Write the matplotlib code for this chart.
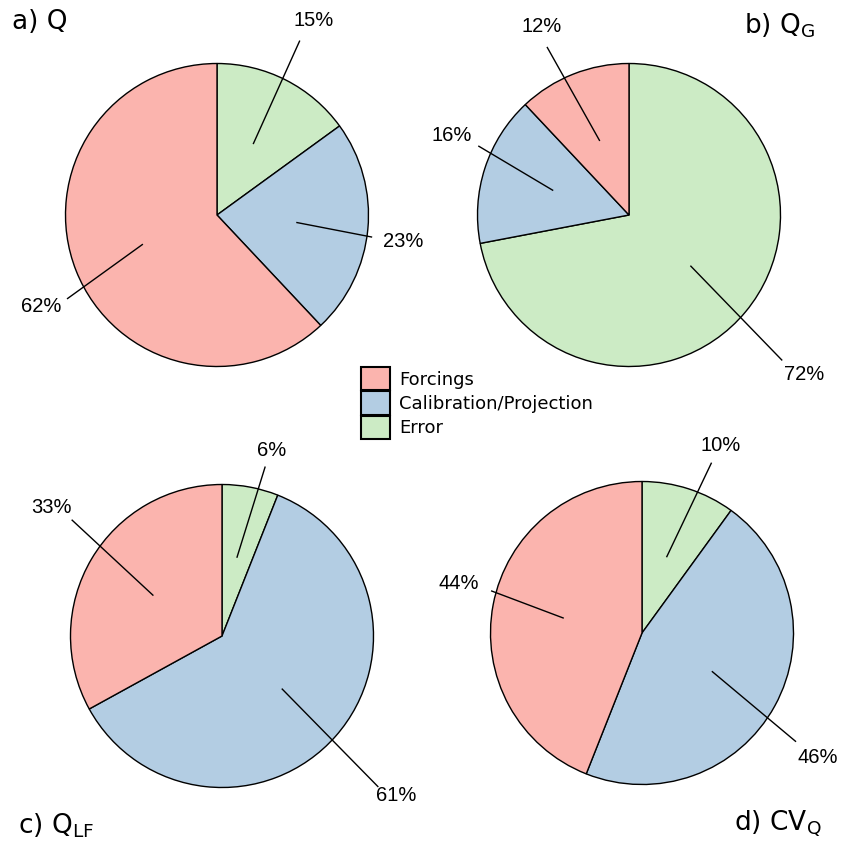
import numpy as np
import matplotlib.pyplot as plt
from matplotlib.patches import Patch

plt.rcParams['font.family'] = ['DejaVu Sans']
plt.rcParams['mathtext.default'] = 'regular'

# wedges drawn clockwise from 12 o'clock: Error, Calibration/Projection, Forcings
sources = ['Error', 'Calibration/Projection', 'Forcings']
colors = ['#CCEBC5', '#B3CDE3', '#FBB4AE']

share_q = [15, 23, 62]
share_qg = [72, 16, 12]
share_qlf = [6, 61, 33]
share_cvq = [10, 46, 44]

titles = ['a) Q', 'b) $Q_G$', 'c) $Q_{LF}$', 'd) $CV_Q$']

# label placement per wedge: (line end angle, line end radius, text angle, text radius)
label_pos = [
    [(64.6, 1.27, 63.6, 1.43), (-8.1, 1.03, -8.2, 1.24), (209.2, 1.13, 207.6, 1.31)],
    [(-43.5, 1.39, -42.3, 1.56), (155.4, 1.09, 155.9, 1.28), (116.0, 1.23, 115.0, 1.37)],
    [(75.7, 1.15, 75.0, 1.27), (-44.0, 1.43, -42.6, 1.56), (142.3, 1.25, 143.0, 1.41)],
    [(67.8, 1.21, 67.1, 1.34), (-35.2, 1.24, -35.2, 1.42), (164.4, 1.03, 165.0, 1.25)],
]

W, H = 842, 841
fig = plt.figure(figsize=(W / 100, H / 100), dpi=100)

centers = [(217, 215), (629, 215), (222, 636), (642, 633)]
r_px = 151.5
half = 215
lim = half / r_px

for k, (vals, (cx, cy)) in enumerate(zip([share_q, share_qg, share_qlf, share_cvq], centers)):
    ax = fig.add_axes([(cx - half) / W, (H - cy - half) / H, 2 * half / W, 2 * half / H])
    wedges, _ = ax.pie(vals, colors=colors, startangle=90, counterclock=False, radius=1,
                       wedgeprops=dict(edgecolor='black', linewidth=1.0))
    ax.set_xlim(-lim, lim)
    ax.set_ylim(-lim, lim)
    ax.set_aspect('equal')
    ax.axis('off')
    for j, w in enumerate(wedges):
        a = np.deg2rad((w.theta1 + w.theta2) / 2)
        la, lr, ta, tr = label_pos[k][j]
        la, ta = np.deg2rad(la), np.deg2rad(ta)
        ax.plot([0.53 * np.cos(a), lr * np.cos(la)], [0.53 * np.sin(a), lr * np.sin(la)],
                color='black', lw=1.0, clip_on=False)
        ax.text(tr * np.cos(ta), tr * np.sin(ta), f'{vals[j]}%', fontsize=14.5,
                family='Liberation Sans', ha='center', va='center', clip_on=False)

fig.text(12 / W, 1 - 22 / H, titles[0], fontsize=19, ha='left', va='center')
fig.text(815 / W, 1 - 26 / H, titles[1], fontsize=19, ha='right', va='center')
fig.text(18 / W, 1 - 826 / H, titles[2], fontsize=19, ha='left', va='center')
fig.text(822 / W, 1 - 824 / H, titles[3], fontsize=19, ha='right', va='center')

handles = [Patch(facecolor=colors[i], edgecolor='black', linewidth=1.5) for i in [2, 1, 0]]
fig.legend(handles, [sources[i] for i in [2, 1, 0]], loc='center',
           bbox_to_anchor=(477 / W, 1 - 403 / H), frameon=False, fontsize=13,
           handlelength=1.6, handleheight=1.6, labelspacing=0.05, handletextpad=0.55,
           borderpad=0.2)

fig.savefig('out.png', dpi=100)
